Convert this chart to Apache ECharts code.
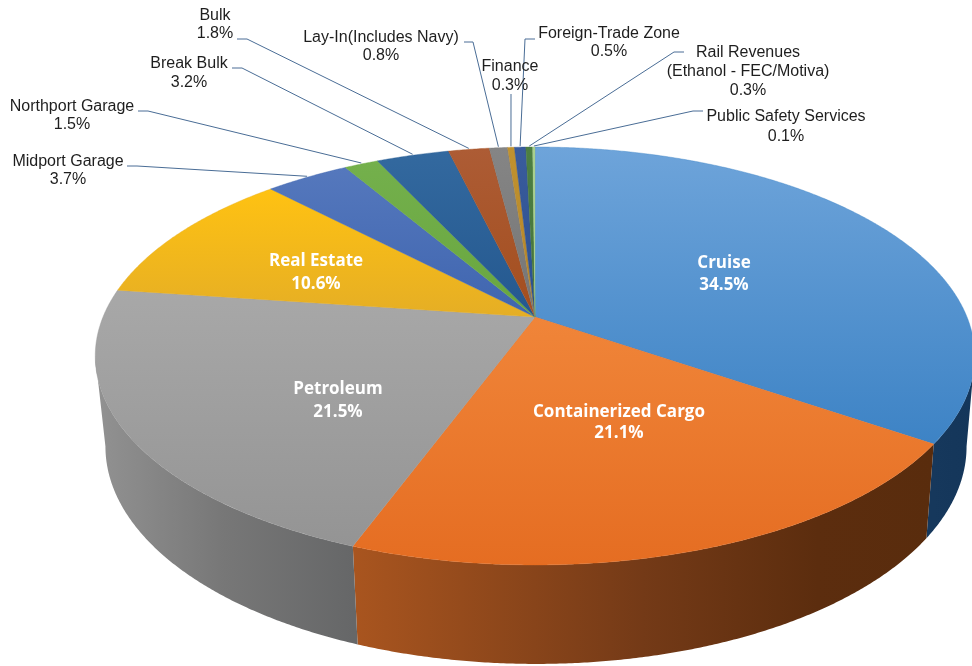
<!DOCTYPE html>
<html><head><meta charset="utf-8">
<style>html,body{margin:0;padding:0;background:#fff}#c{width:972px;height:666px}</style>
<script src="https://cdn.jsdelivr.net/npm/echarts@6/dist/echarts.min.js"></script>
</head><body><div id="c"></div>
<script>
// ---- data ----
var categories = ['Cruise','Containerized Cargo','Petroleum','Real Estate','Midport Garage','Northport Garage','Break Bulk','Bulk','Lay-In(Includes Navy)','Finance','Foreign-Trade Zone','Rail Revenues\n(Ethanol - FEC/Motiva)','Public Safety Services'];
var values = [34.5,21.1,21.5,10.6,3.7,1.5,3.2,1.8,0.8,0.3,0.5,0.3,0.1];
// ---- styles ----
var faceTop = ['#6ea4da','#f08539','#a8a8a8','#ffc212','#5578bd','#74b04c','#33699f','#ad5c35','#858585','#c0922f','#3a5c9c','#4d7f42','#a9cf8e'];
var faceBottom = ['#3d83c5','#e56d22','#949494','#e5ae25','#3f65af','#68a63f','#24588f','#a34e1e','#757575','#b3842a','#2a4f90','#46743b','#a9cf8e'];
var wallStops = {
  0:[[0,'#16385c'],[1,'#14365a']],
  1:[[0,'#a9551f'],[0.5,'#743a17'],[0.8,'#5c2d0e'],[1,'#592c0d']],
  2:[[0,'#929292'],[0.5,'#777777'],[1,'#666768']]
};
// ---- layout of the outside / inside labels: [centre x, centre y of the text block, line height] ----
var labelBox = [[724,274,22],[619,423,21],[338,401,23],[316,273,23],[68,171,18],[72,116,18],[189,73,19],[215,25,18],[381,47,18],[510,76,19],[609,43,18],[748,72,19],[786,127,20]];
// leader start and elbow: [startX, elbowX, y], null when the label sits inside the slice
var leaderElbow = [null,null,null,null,[127,137,166],[138,148,111],[232,242,68],[237,247,39],[464,473,42],[511,511,94],[535,525,39],[684,674,52],[703,693,111]];

// ---- perspective pie geometry: a circle seen through a projective view ----
var K = 0.1866, total = values.reduce(function(a,b){return a+b;},0);
var TOP = {cx:535, cy:317, a:201.7, b:432};
var BASE = {cx:536, cy:406, a:209.8, b:423};
var WALL_FROM = Math.acos(-K), WALL_TO = 2*Math.PI - WALL_FROM;
function project(f, th){
  var u=Math.sin(th), v=Math.cos(th), w=1+K*v;
  return [f.cx+f.b*u/w, f.cy-f.a*v/w];
}
function arc(f, a0, a1){
  var n=Math.max(2,Math.ceil((a1-a0)/0.006)), pts=[];
  for(var i=0;i<=n;i++) pts.push(project(f,a0+(a1-a0)*i/n));
  return pts;
}
function grad(x,y,x2,y2,stops){
  return {type:'linear',global:true,x:x,y:y,x2:x2,y2:y2,colorStops:stops.map(function(s){return {offset:s[0],color:s[1]};})};
}
function sliceAngles(i){
  var s=0; for(var j=0;j<i;j++) s+=values[j];
  return [s/total*2*Math.PI,(s+values[i])/total*2*Math.PI];
}
function renderItem(params, api){
  var i=params.dataIndex, val=api.value(0), ang=sliceAngles(i), kids=[];
  var a0=ang[0], a1=ang[1];
  // side wall
  var w0=Math.max(a0,WALL_FROM), w1=Math.min(a1,WALL_TO);
  if(w1>w0 && wallStops[i]){
    var topArc=arc(TOP,w0,w1), baseArc=arc(BASE,w0,w1).reverse();
    var xs=topArc.map(function(p){return p[0];});
    var minX=Math.min.apply(null,xs), maxX=Math.max.apply(null,xs);
    var stops=wallStops[i];
    kids.push({type:'polygon',z2:1,shape:{points:topArc.concat(baseArc)},
      style:{fill:grad(minX,0,maxX,0,stops),stroke:stops[0][1],lineWidth:0}});
  }
  // top face
  var centre=[TOP.cx,TOP.cy], rim=arc(TOP,a0,a1);
  var ys=rim.map(function(p){return p[1];}).concat([centre[1]]);
  kids.push({type:'polygon',z2:2,shape:{points:[centre].concat(rim)},
    style:{fill:grad(0,Math.min.apply(null,ys),0,Math.max.apply(null,ys),[[0,faceTop[i]],[1,faceBottom[i]]]),
      stroke:faceBottom[i],lineWidth:0.4}});
  // leader
  var el=leaderElbow[i];
  if(el){
    var end=project(TOP,(a0+a1)/2);
    kids.push({type:'polyline',z2:3,shape:{points:[[el[0],el[2]],[el[1],el[2]],[end[0],end[1]-1]]},
      style:{fill:null,stroke:'#4a6d96',lineWidth:1}});
  }
  // label
  var box=labelBox[i], inside=!el;
  kids.push({type:'text',z2:5,style:{
    text:categories[i]+'\n'+val.toFixed(1)+'%',
    x:box[0],y:box[1],align:'center',verticalAlign:'middle',lineHeight:box[2],
    fontFamily:inside?'Open Sans':'Liberation Sans',
    fontWeight:inside?'bold':'normal',
    fontSize:inside?17:16,
    fill:inside?'#ffffff':'#1e1e1e'}});
  return {type:'group',children:kids};
}
var chart=echarts.init(document.getElementById('c'),null,{renderer:'canvas'});
chart.setOption({
  animation:false,
  backgroundColor:'#ffffff',
  tooltip:{show:false},
  series:[{
    type:'custom',
    coordinateSystem:'none',
    silent:true,
    renderItem:renderItem,
    encode:{value:0},
    data:values.map(function(v,i){return {name:categories[i],value:[v]};})
  }]
});
</script></body></html>
